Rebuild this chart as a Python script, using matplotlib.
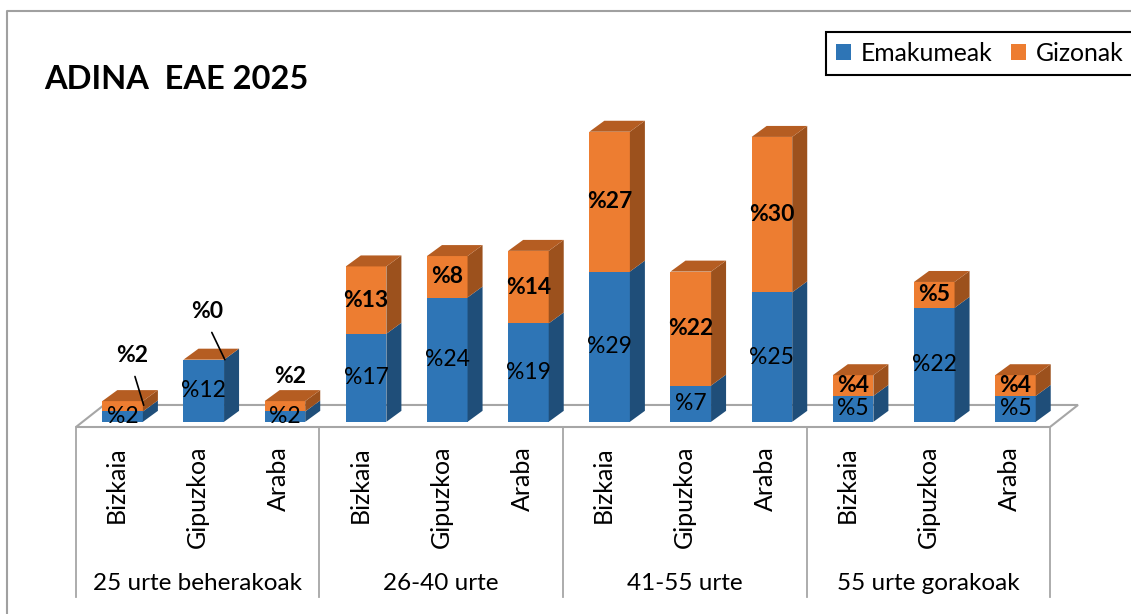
import matplotlib
matplotlib.use("Agg")
import matplotlib.pyplot as plt
from matplotlib.patches import Polygon, Patch
from matplotlib.lines import Line2D

plt.rcParams['font.family'] = ['Lato', 'DejaVu Sans']

groups = ['25 urte beherakoak', '26-40 urte', '41-55 urte', '55 urte gorakoak']
regions = ['Bizkaia', 'Gipuzkoa', 'Araba']
emakumeak = [2, 12, 2, 17, 24, 19, 29, 7, 25, 5, 22, 5]
gizonak = [2, 0, 2, 13, 8, 14, 27, 22, 30, 4, 5, 4]

BLUE, BLUE_SIDE = '#2E75B6', '#1F4E79'
ORANGE, ORANGE_SIDE, ORANGE_TOP = '#ED7D31', '#9C511D', '#B55D22'
GRID = '#A6A6A6'

W = 0.5            # bar width (categories)
BX, BY = 0.074, 1.0   # bar front offset from floor front
DX, DY = 0.185, 2.12  # bar depth
FX, FY = 0.345, 4.25  # floor depth

fig = plt.figure(figsize=(11.31, 6.14), dpi=100)
FW, FH = 1131, 614
px_unit = 5.18
ymax = 60
ax = fig.add_axes([76 / FW, (FH - 427) / FH, 974 / FW, ymax * px_unit / FH])
ax.set_xlim(-0.5, 11.5)
ax.set_ylim(0, ymax)
ax.axis('off')

# chart frame
fig.add_artist(Line2D([7 / FW, 7 / FW, 1], [0, 1 - 11 / FH, 1 - 11 / FH],
                      transform=fig.transFigure, color='#A0A0A0', lw=1.5))

# floor
n = len(emakumeak)
floor = Polygon([(-0.5, 0), (n - 0.5, 0), (n - 0.5 + FX, FY), (-0.5 + FX, FY)],
                closed=True, facecolor='white', edgecolor=GRID, lw=1.5, clip_on=False)
ax.add_patch(floor)

# table lines below floor
for k in range(len(groups) + 1):
    xg = -0.5 + 3 * k
    ax.plot([xg, xg], [0, -(597 - 427) / px_unit], color=GRID, lw=1.3, clip_on=False)

x = list(range(n))
xf = [i + BX for i in x]
tops = [e + g for e, g in zip(emakumeak, gizonak)]

ax.bar(xf, emakumeak, W, bottom=BY, color=BLUE, clip_on=False, zorder=3)
ax.bar(xf, gizonak, W, bottom=[BY + e for e in emakumeak], color=ORANGE,
       clip_on=False, zorder=3)

def side(xr, b, h, c):
    ax.add_patch(Polygon([(xr, b), (xr + DX, b + DY), (xr + DX, b + h + DY), (xr, b + h)],
                         closed=True, facecolor=c, edgecolor='none', clip_on=False, zorder=3))

for i in x:
    xl = xf[i] - W / 2
    xr = xf[i] + W / 2
    side(xr, BY, emakumeak[i], BLUE_SIDE)
    side(xr, BY + emakumeak[i], gizonak[i], ORANGE_SIDE)
    t = BY + tops[i]
    ax.add_patch(Polygon([(xl, t), (xr, t), (xr + DX, t + DY), (xl + DX, t + DY)],
                         closed=True, facecolor=ORANGE_TOP, edgecolor='none',
                         clip_on=False, zorder=3))

FS = 16.5
for i in x:
    ax.text(xf[i], BY + emakumeak[i] / 2, '%' + str(emakumeak[i]), ha='center',
            va='center', fontsize=FS, zorder=5)
    lab = '%' + str(gizonak[i])
    if i == 0 or i == 1:
        xy = (xf[i] + W / 2 + 0.01, BY + tops[i] - (0.8 if i == 0 else 0.0))
        off = (-12, 50) if i == 0 else (-18, 48)
        ax.annotate(lab, xy=xy, xytext=off, textcoords='offset pixels',
                    ha='center', va='center', fontsize=FS, fontweight='bold', zorder=5,
                    arrowprops=dict(arrowstyle='-', color='black', lw=1.2,
                                    relpos=(0.5, 0), shrinkA=6, shrinkB=0))
    elif i == 2:
        ax.annotate(lab, xy=(xf[i], BY + tops[i]), xytext=(5, 25),
                    textcoords='offset pixels', ha='center', va='center',
                    fontsize=FS, fontweight='bold', zorder=5)
    else:
        ax.text(xf[i], BY + emakumeak[i] + gizonak[i] / 2, lab, ha='center',
                va='center', fontsize=FS, fontweight='bold', zorder=5)

# category labels
for i in x:
    ax.text(i, -(446 - 427) / px_unit, regions[i % 3], rotation=90, ha='center',
            va='top', fontsize=18, clip_on=False)
for k, gname in enumerate(groups):
    ax.text(3 * k + 1, -(590 - 427) / px_unit, gname, ha='center', va='baseline',
            fontsize=17.5, clip_on=False)

fig.text(44 / FW, 1 - 89 / FH, 'ADINA  EAE 2025', fontsize=23.5, fontweight='bold',
         ha='left', va='baseline')

handles = [Patch(facecolor=BLUE, label='Emakumeak'), Patch(facecolor=ORANGE, label='Gizonak')]
leg = fig.legend(handles=handles, loc='upper left', bbox_to_anchor=(826 / FW, 1 - 32 / FH),
                 ncol=2, fontsize=17.8, frameon=True, fancybox=False, edgecolor='black',
                 framealpha=1, borderaxespad=0, handlelength=0.6, handleheight=0.6,
                 handletextpad=0.4, columnspacing=0.75, borderpad=0.4)
leg.get_frame().set_linewidth(1.5)

fig.savefig('out.png', dpi=100)
